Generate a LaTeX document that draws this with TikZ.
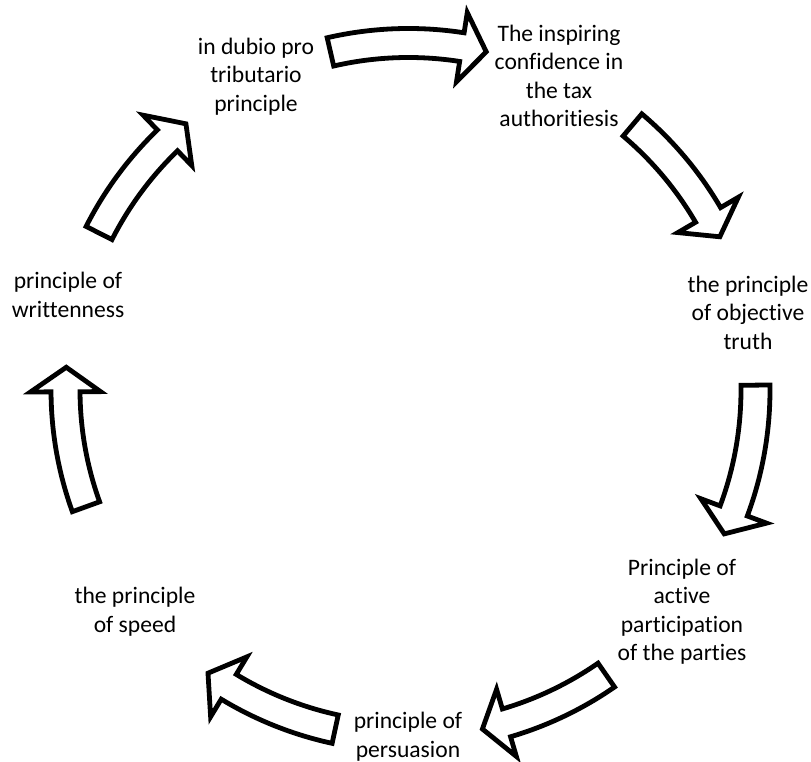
\documentclass[tikz,border=0pt]{standalone}
\usepackage{fontspec}
\setmainfont{Carlito}[Ligatures=NoCommon]
\def\cyaw{14.5}
\def\cyahw{35}
\def\cyahl{4.1}
\newcommand\cycarrow[3]{%
  \draw[blockarrow] ([shift={(c)}]{#1}:{#3+\cyaw}) arc[start angle={#1}, end angle={#2+\cyahl}, radius={#3+\cyaw}]
    -- ([shift={(c)}]{#2+\cyahl}:{#3+\cyahw})
    -- ([shift={(c)}]{#2}:{#3})
    -- ([shift={(c)}]{#2+\cyahl}:{#3-\cyahw})
    -- ([shift={(c)}]{#2+\cyahl}:{#3-\cyaw})
    arc[start angle={#2+\cyahl}, end angle={#1}, radius={#3-\cyaw}] -- cycle;}
\begin{document}
\begin{tikzpicture}[x=1pt,y=1pt,
  lbl/.style={align=center, font=\fontsize{23.6}{28.5}\selectfont, inner sep=0pt, text=black,
    execute at begin node=\strut, execute at end node=\strut},
  blockarrow/.style={draw=black, fill=white, line width=4.8pt, line join=miter}]
\useasboundingbox (0,0) rectangle (811,762);
\fill[white] (0,0) rectangle (811,762);
\coordinate (c) at (408.5,372);
\node[lbl] (n1) at (256,762-79) {in dubio pro\\tributario\\principle};
\node[lbl] (n2) at (559,762-80) {The inspiring\\confidence in\\the tax\\authoritiesis};
\node[lbl] (n3) at (748,762-317) {the principle\\of objective\\truth};
\node[lbl] (n4) at (682,762-614) {Principle of\\active\\participation\\of the parties};
\node[lbl] (n5) at (408,762-739) {principle of\\persuasion};
\node[lbl] (n6) at (135,762-614) {the principle\\of speed};
\node[lbl] (n7) at (68,762-299) {principle of\\writtenness};
\cycarrow{103}{77.05}{347}
\cycarrow{49.8}{26.2}{347}
\cycarrow{0.8}{-24.5}{347}
\cycarrow{-55.25}{-77.7}{347}
\cycarrow{-102.2}{-125.3}{347}
\cycarrow{-160.1}{-183.8}{343}
\cycarrow{153.1}{129.9}{347}
\end{tikzpicture}
\end{document}
